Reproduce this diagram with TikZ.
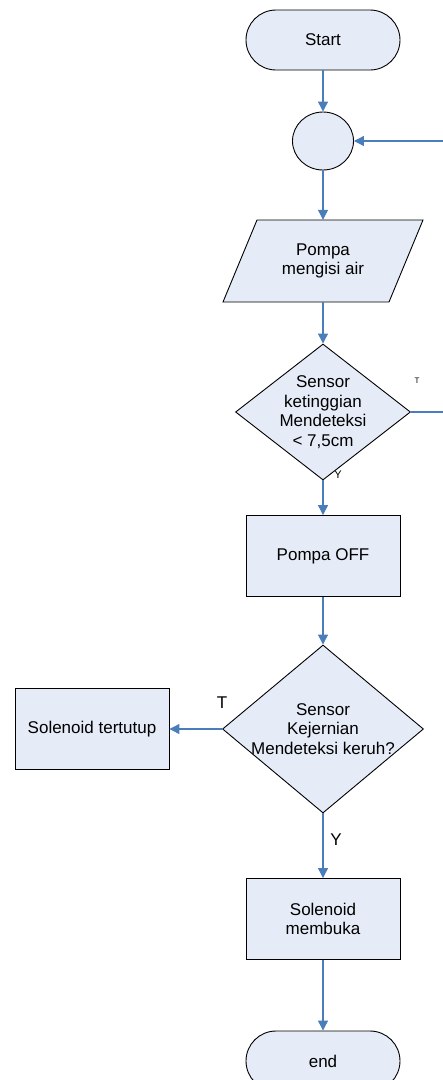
\documentclass[tikz,border=0pt]{standalone}
\usepackage{fontspec}
\setmainfont{Liberation Sans}
\usetikzlibrary{shapes.geometric,arrows.meta,calc}
\definecolor{boxfill}{RGB}{230,236,247}
\definecolor{flowblue}{RGB}{74,126,187}
\begin{document}
\begin{tikzpicture}[x=1pt,y=-1pt,
  every node/.style={font=\fontsize{17}{19.5}\selectfont, align=center},
  base/.style={draw=black, line width=0.9pt, fill=boxfill},
  term/.style={base, rectangle, rounded corners=30pt, minimum width=154pt, minimum height=60pt, inner sep=0pt},
  proc/.style={base, rectangle, minimum width=154pt, minimum height=81pt, inner sep=0pt},
  dec/.style={base, diamond, inner sep=0pt},
  conn/.style={draw=flowblue, line width=1.1pt, -{Triangle[width=10pt,length=10pt]}},
  plain/.style={draw=flowblue, line width=1.1pt}]
\useasboundingbox (0,0) rectangle (443,1080);

\node[term] (start) at (323,40) {Start};
\node[base, ellipse, minimum width=61pt, minimum height=58pt, inner sep=0pt] (join) at (323,141) {};
\draw[base] (257,220) -- (423,220) -- (389,302) -- (223,302) -- cycle;
\node[minimum width=166pt, minimum height=82pt, inner sep=0pt] (pompa) at (323,261) {Pompa\\mengisi air};
\node[dec, minimum width=175pt, minimum height=136pt] (d1) at (323,412) {};
\node (d1text) at (d1) {Sensor\\ketinggian\\Mendeteksi\\< 7,5cm};
\node[proc] (off) at (323,556) {Pompa OFF};
\node[dec, minimum width=201pt, minimum height=168pt] (d2) at (323,729) {};
\node (d2text) at (d2) {Sensor\\Kejernian\\Mendeteksi keruh?};
\node[proc] (tutup) at (92,729) {Solenoid tertutup};
\node[proc] (buka) at (323,919) {Solenoid\\membuka};
\node[term] (end) at (323,1061) {end};
\coordinate (loopin) at (443,141);
\coordinate (loopout) at (443,412);

\draw[conn] (start.south) -- (join.north);
\draw[conn] (loopin) -- (join.east);
\draw[conn] (join.south) -- (pompa.north);
\draw[conn] (pompa.south) -- (d1.north);
\draw[plain] (d1.east) -- (loopout);
\draw[conn] (d1.south) -- (off.north);
\draw[conn] (off.south) -- (d2.north);
\draw[conn] (d2.west) -- (tutup.east);
\draw[conn] (d2.south) -- (buka.north);
\draw[conn] (buka.south) -- (end.north);

\node[font=\fontsize{8}{9}\selectfont] (t1) at (417,381) {T};
\node[font=\fontsize{11}{12}\selectfont] (y1) at (338,475) {Y};
\node (t2) at (222,703) {T};
\node (y2) at (336,840) {Y};
\end{tikzpicture}
\end{document}
